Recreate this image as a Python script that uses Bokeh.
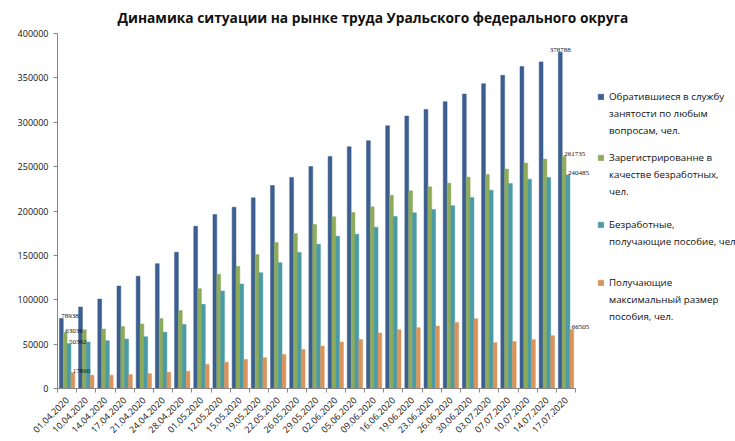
import math
from bokeh.plotting import figure
from bokeh.models import (ColumnDataSource, Range1d, FixedTicker, NumeralTickFormatter,
                          Title, Legend, LegendItem)
from bokeh.embed import file_html
from bokeh.resources import INLINE

dates = ["01.04.2020", "10.04.2020", "14.04.2020", "17.04.2020", "21.04.2020", "24.04.2020",
         "28.04.2020", "01.05.2020", "12.05.2020", "15.05.2020", "19.05.2020", "22.05.2020",
         "26.05.2020", "29.05.2020", "02.06.2020", "05.06.2020", "09.06.2020", "16.06.2020",
         "19.06.2020", "23.06.2020", "26.06.2020", "30.06.2020", "03.07.2020", "07.07.2020",
         "10.07.2020", "14.07.2020", "17.07.2020"]

applied = [78938, 91800, 100800, 115500, 126400, 140700, 153500, 182800, 196000, 204300,
           214800, 228700, 237800, 250200, 261500, 272400, 279200, 296100, 307000, 314500,
           323200, 331800, 343500, 352900, 362700, 368000, 378788]
registered = [63036, 66200, 67000, 70000, 72600, 78800, 88000, 112500, 128700, 137700,
              150900, 164400, 174600, 184700, 193400, 198300, 204700, 217800, 222700, 227200,
              231400, 238200, 241200, 247200, 254000, 258500, 261735]
benefit = [50392, 52300, 53800, 55700, 58300, 63400, 72200, 94800, 109800, 117700,
           130500, 141800, 153100, 162500, 171600, 173800, 181700, 193800, 197900, 201700,
           205800, 215300, 223500, 231000, 235900, 237800, 240485]
max_benefit = [17860, 15000, 15000, 15800, 16600, 18400, 19500, 27100, 29700, 32700,
               34600, 38400, 44000, 47800, 52300, 55300, 62400, 66200, 68500, 70300,
               74500, 78600, 51600, 53000, 55000, 59500, 66505]

series_names = [
    ["Обратившиеся в службу", "занятости по любым", "вопросам, чел."],
    ["Зарегистрированне в", "качестве безработных,", "чел."],
    ["Безработные,", "получающие пособие, чел."],
    ["Получающие", "максимальный размер", "пособия, чел."],
]
title_text = "Динамика ситуации  на рынке труда Уральского федерального округа"
y_ticks = [0, 50000, 100000, 150000, 200000, 250000, 300000, 350000, 400000]

colors = ["#3C5F91", "#8EAB5C", "#4A9BA5", "#D9935C"]
series = [applied, registered, benefit, max_benefit]
offsets = [-0.3, -0.1, 0.1, 0.3]
FONT = "Open Sans"

n = len(dates)
p = figure(width=735, height=441, output_backend="svg", toolbar_location=None,
           x_range=Range1d(-0.5, 34.83), y_range=Range1d(0, 400000),
           min_border_left=57, min_border_right=0, min_border_top=33, min_border_bottom=53)
p.outline_line_color = None
p.grid.visible = False
p.background_fill_color = "white"

p.title = Title(text=title_text, align="left", offset=60, text_font=FONT,
                text_font_style="bold", text_font_size="13.75px", text_color="#111111",
                standoff=10, vertical_align="top")

renderers = []
for vals, off, col in zip(series, offsets, colors):
    xs = [i + off for i in range(n)]
    src = ColumnDataSource(dict(x=xs, top=vals))
    r = p.vbar(x="x", top="top", width=0.2, bottom=0, source=src,
               fill_color=col, line_color=col, line_width=0.5)
    renderers.append(r)

# invisible renderer used for continuation lines of the legend texts
blank = p.vbar(x=[], top=[], width=0.2, fill_alpha=0, line_alpha=0)

# data labels for first and last points of every series
lx, ly, lt, la = [], [], [], []
for k, (vals, off) in enumerate(zip(series, offsets)):
    for i in (0, n - 1):
        lx.append(i + off)
        ly.append(vals[i])
        lt.append(str(vals[i]))
        la.append("center" if (k == 0 and i == n - 1) else "left")
lsrc = ColumnDataSource(dict(x=lx, y=ly, t=lt, a=la))
p.text(x="x", y="y", text="t", source=lsrc, text_align="a", text_baseline="bottom",
       text_font_size="7px", text_color="#111111", text_font=FONT)

# axes
xa = p.xaxis[0]
xa.bounds = (-0.5, n - 0.5)
xa.ticker = FixedTicker(ticks=list(range(n)), minor_ticks=[i - 0.5 for i in range(n + 1)])
xa.major_label_overrides = {i: d for i, d in enumerate(dates)}
xa.major_label_orientation = math.pi / 4
xa.major_tick_line_color = None
xa.minor_tick_line_color = "#868686"
xa.minor_tick_in = 0
xa.minor_tick_out = 4
xa.axis_line_color = "#868686"
xa.major_label_text_font = FONT
xa.major_label_text_font_size = "9px"
xa.major_label_text_color = "#111111"
xa.major_label_standoff = 4

ya = p.yaxis[0]
ya.ticker = FixedTicker(ticks=y_ticks)
ya.formatter = NumeralTickFormatter(format="0")
ya.axis_line_color = "#868686"
ya.major_tick_line_color = "#868686"
ya.major_tick_in = 0
ya.major_tick_out = 4
ya.minor_tick_line_color = None
ya.major_label_text_font = FONT
ya.major_label_text_font_size = "9px"
ya.major_label_text_color = "#111111"
ya.major_label_standoff = 5

# one legend block per series, each line a legend row (glyph only on the first row)
legend_y = [249.5, 188.5, 138.5, 63.5]
for lines, r, ly0 in zip(series_names, renderers, legend_y):
    items = [LegendItem(label=lines[0], renderers=[r])]
    items += [LegendItem(label=t, renderers=[blank]) for t in lines[1:]]
    lg = Legend(items=items, location=(540, ly0), orientation="vertical",
                glyph_width=7, glyph_height=7, label_standoff=5, padding=0, margin=0,
                spacing=0, label_height=17, border_line_color=None, background_fill_alpha=0,
                label_text_font=FONT, label_text_font_size="9.75px", label_text_color="#111111")
    p.add_layout(lg, "center")

open("out.html", "w").write(file_html(p, INLINE))
